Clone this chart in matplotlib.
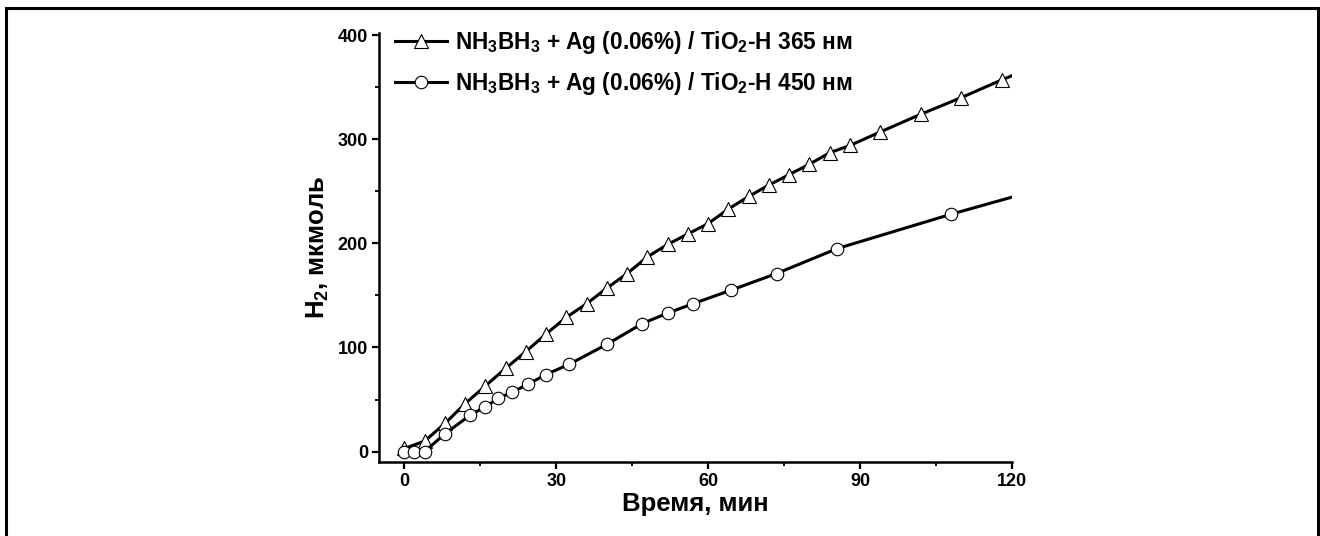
import numpy as np
import matplotlib.pyplot as plt
from matplotlib.patches import Rectangle

plt.rcParams['font.family'] = ['Liberation Sans', 'DejaVu Sans']
plt.rcParams['font.weight'] = 'bold'
plt.rcParams['mathtext.fontset'] = 'custom'
plt.rcParams['mathtext.rm'] = 'Liberation Sans:bold'
plt.rcParams['mathtext.it'] = 'Liberation Sans:bold'
plt.rcParams['mathtext.bf'] = 'Liberation Sans:bold'
plt.rcParams['mathtext.default'] = 'rm'

# 365 nm series (triangles)
t365 = [0, 4, 8, 12, 16, 20, 24, 28, 32, 36, 40, 44, 48, 52, 56, 60, 64, 68,
        72, 76, 80, 84, 88, 94, 102, 110, 118, 126]
h365 = [3, 10, 27, 46, 63, 80, 96, 113, 129, 142, 157, 171, 187, 199, 209, 219,
        233, 245, 256, 266, 276, 287, 294, 307, 324, 340, 357, 373]

# 450 nm series (circles)
t450 = [0, 2, 4, 8, 13, 16, 18.5, 21.3, 24.5, 28, 32.6, 40, 47, 52, 57, 64.5,
        73.5, 85.5, 108, 130]
h450 = [0, 0, 0, 17, 35, 43, 51, 57, 65, 74, 84, 103, 123, 133, 142, 155,
        171, 195, 228, 258]

lab365 = 'NH$_3$BH$_3$ + Ag (0.06%) / TiO$_2$-H 365 нм'
lab450 = 'NH$_3$BH$_3$ + Ag (0.06%) / TiO$_2$-H 450 нм'

fig = plt.figure(figsize=(13.2, 5.36), dpi=100)
ax = fig.add_axes([379/1320, 1 - 462/536, (1012 - 379)/1320, (462 - 33)/536])

ax.plot(t365, h365, color='black', lw=2.2, marker='^', ms=10, mfc='white',
        mec='black', mew=0.8, label=lab365)
ax.plot(t450, h450, color='black', lw=2.2, marker='o', ms=9, mfc='white',
        mec='black', mew=0.8, label=lab450)

ax.set_xlim(-5, 120)
ax.set_ylim(-10, 402)
ax.set_xticks([0, 30, 60, 90, 120])
ax.set_xticks([15, 45, 75, 105], minor=True)
ax.set_yticks([0, 100, 200, 300, 400])
ax.set_yticks([50, 150, 250, 350], minor=True)

for s in ['top', 'right']:
    ax.spines[s].set_visible(False)
for s in ['left', 'bottom']:
    ax.spines[s].set_linewidth(1.8)
ax.tick_params(which='major', direction='out', length=5, width=1.6,
               labelsize=13, pad=3)
ax.tick_params(which='minor', direction='out', length=3, width=1.4)

ax.set_xlabel('Время, мин', fontsize=18.5, fontweight='bold', labelpad=1)
ax.set_ylabel('H$_2$, мкмоль', fontsize=18.5, fontweight='bold', labelpad=5)

leg = ax.legend(loc='upper left', bbox_to_anchor=(395/1320, 1 - 29/536),
                bbox_transform=fig.transFigure, frameon=False, numpoints=1,
                fontsize=16.3, handlelength=2.3, handletextpad=0.35,
                labelspacing=0.62, borderpad=0, borderaxespad=0)

fig.patches.append(Rectangle((6/1320, -0.1), 1312/1320, 1.1 - 8/536,
                             transform=fig.transFigure, fill=False,
                             edgecolor='black', lw=2.2))

fig.savefig('out.png', dpi=100)
